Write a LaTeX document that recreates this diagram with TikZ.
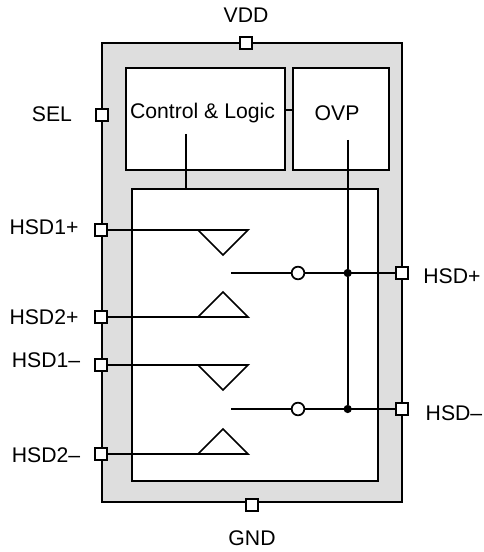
\documentclass[tikz,border=0pt]{standalone}
\usepackage{fontspec}
\setmainfont{Liberation Sans}
\begin{document}
\begin{tikzpicture}[x=0.75pt,y=-0.75pt,
  ln/.style={line width=1.3pt,black},
  blockbox/.style={draw=black,line width=1.5pt,fill=white,rectangle,inner sep=0pt},
  port/.style={draw=black,line width=1.3pt,fill=white,rectangle,minimum size=9pt,inner sep=0pt},
  lbl/.style={font=\fontsize{15.9pt}{18pt}\selectfont,inner sep=0pt},
  junct/.style={circle,fill=black,inner sep=0pt,minimum size=6.2pt},
  inv/.style={circle,draw=black,line width=1.3pt,fill=white,inner sep=0pt,minimum size=9.5pt}]
\useasboundingbox (0,0) rectangle (483,552);
\node[draw=black,line width=1.5pt,fill=black!13,minimum width=225pt,minimum height=344.25pt,inner sep=0pt] (chip) at (252,272.5) {};
\node[blockbox,minimum width=119.25pt,minimum height=76.5pt] (ctl) at (205.5,119) {};
\node[blockbox,minimum width=72pt,minimum height=76.5pt] (ovp) at (341,119) {};
\node[blockbox,minimum width=184.5pt,minimum height=219pt] (core) at (255,335) {};
\node[lbl] (ctltext) at (202.5,113) {Control \& Logic};
\node[lbl] (ovptext) at (337,113) {OVP};
% triangles
\coordinate (t1) at (198,230);
\coordinate (t2) at (198,317);
\coordinate (t3) at (198,365);
\coordinate (t4) at (198,454);
% ports
\node[port] (pvdd) at (246,43) {};
\node[port] (psel) at (102,115) {};
\node[port] (p1p) at (101,230) {};
\node[port] (p2p) at (101,317) {};
\node[port] (p1m) at (101,365) {};
\node[port] (p2m) at (101,454) {};
\node[port] (pp) at (402,273) {};
\node[port] (pm) at (402,409) {};
\node[port] (pgnd) at (252,505) {};
\draw[ln] (p1p) -- (t1);
\draw[ln] (p2p) -- (t2);
\draw[ln] (p1m) -- (t3);
\draw[ln] (p2m) -- (t4);
\draw[ln,line join=miter] (t1) -- ++(50,0) -- ++(-25,25) -- cycle;
\draw[ln,line join=miter] (t2) -- ++(50,0) -- ++(-25,-25) -- cycle;
\draw[ln,line join=miter] (t3) -- ++(50,0) -- ++(-25,25) -- cycle;
\draw[ln,line join=miter] (t4) -- ++(50,0) -- ++(-25,-25) -- cycle;
% outputs
\coordinate (o1) at (231,273);
\coordinate (o2) at (231,409);
\coordinate (ovpin) at (347.7,140);
\coordinate (ctlout) at (186,134);
\node[junct] (j1) at (347.7,273) {};
\node[junct] (j2) at (347.7,409) {};
\draw[ln] (o1) -- (pp);
\draw[ln] (o2) -- (pm);
\draw[ln] (ovpin) -- (j1) -- (j2);
\node[inv] (c1) at (298,273) {};
\node[inv] (c2) at (298,409) {};
\node[port] at (pp) {};
\node[port] at (pm) {};
\draw[ln] (ctlout) -- (ctlout |- core.north);
\coordinate (ctlr) at (285,110);
\draw[ln] (ctlr) -- (ctlr -| ovp.west);
% labels
\node[lbl] (lvdd) at (246,15) {VDD};
\node[lbl] (lsel) at (52,114) {SEL};
\node[lbl] (l1p) at (44,227) {HSD1+};
\node[lbl] (l2p) at (44,317) {HSD2+};
\node[lbl] (l1m) at (46,360) {HSD1--};
\node[lbl] (l2m) at (46,455) {HSD2--};
\node[lbl] (lp) at (452,276) {HSD+};
\node[lbl] (lm) at (454,413) {HSD--};
\node[lbl] (lgnd) at (252,538) {GND};
\end{tikzpicture}
\end{document}
